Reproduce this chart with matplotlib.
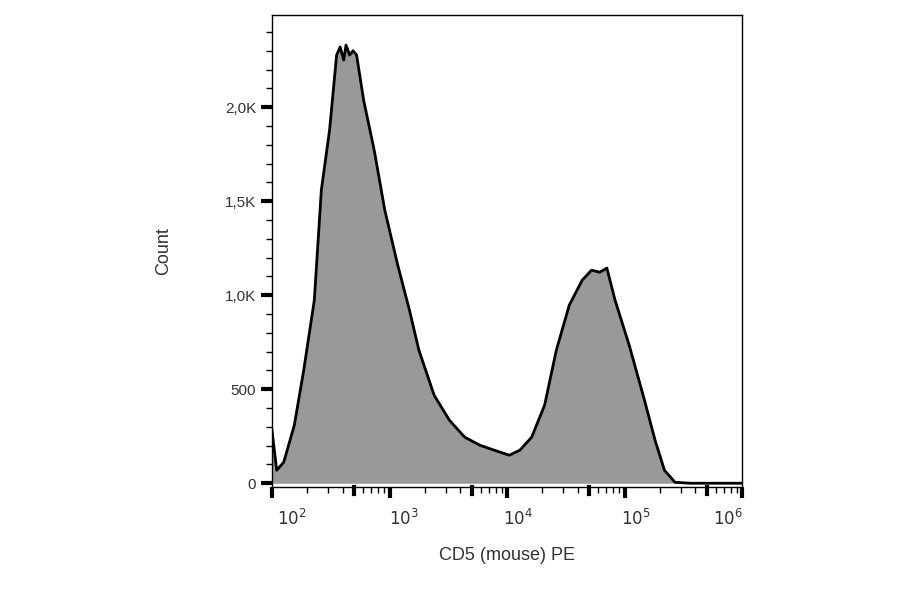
import numpy as np
import matplotlib
matplotlib.use("Agg")
import matplotlib.pyplot as plt
from matplotlib.ticker import FixedLocator, NullFormatter
import matplotlib.transforms as mt
from matplotlib.lines import Line2D

plt.rcParams['font.family'] = ['Liberation Sans', 'DejaVu Sans']

log_x = [2.0, 2.04, 2.10, 2.19, 2.27, 2.36, 2.42, 2.49, 2.55, 2.58, 2.61, 2.63, 2.66, 2.69, 2.72, 2.78, 2.87, 2.96,
         3.07, 3.17, 3.25, 3.38, 3.51, 3.64, 3.77, 3.89, 4.02, 4.11, 4.21, 4.32, 4.42, 4.53,
         4.64, 4.72, 4.79, 4.85, 4.92, 5.04, 5.17, 5.26, 5.34, 5.43, 5.56, 6.0]
counts = [282, 69, 112, 309, 601, 973, 1559, 1878, 2277, 2320, 2250, 2330, 2277, 2300, 2277, 2037, 1771, 1452,
          1160, 920, 708, 468, 335, 245, 202, 176, 149, 176, 245, 415, 708, 947,
          1080, 1133, 1122, 1144, 973, 734, 442, 229, 69, 5, 0, 0]
ytick_vals = [0, 500, 1000, 1500, 2000]
ytick_labels = ["0", "500", "1,0K", "1,5K", "2,0K"]
xtick_labels = ["$10^2$", "$10^3$", "$10^4$", "$10^5$", "$10^6$"]

x = 10 ** np.array(log_x)
y = np.array(counts)

fig = plt.figure(figsize=(9, 5.94), dpi=100)
ax = fig.add_axes([272/900, 1-487/594, 470/900, 472/594])
ax.fill_between(x, y, color="#999999", lw=0)
ax.plot(x, y, color="black", lw=2)
ax.set_xscale("log")
ax.set_xlim(100, 1e6)
ax.set_ylim(-20, 2490)

decades = [1e2, 1e3, 1e4, 1e5, 1e6]
ax.xaxis.set_major_locator(FixedLocator(decades))
ax.xaxis.set_major_formatter(NullFormatter())
mid = [5 * d for d in decades[:-1]]
minor = [m * d for d in decades[:-1] for m in (2, 3, 4, 6, 7, 8, 9)]
ax.xaxis.set_minor_locator(FixedLocator(minor))
ax.xaxis.set_minor_formatter(NullFormatter())
ax.tick_params(axis="x", which="major", length=8, width=3, direction="out")
ax.tick_params(axis="x", which="minor", length=4, width=1, direction="out")
tr = mt.blended_transform_factory(ax.transData, ax.transAxes)
for m in mid:
    ax.add_line(Line2D([m, m], [0, -0.014], transform=tr, color="black", lw=3, clip_on=False))

label_pos = [10**2.17, 10**3.12, 10**4.09, 10**5.1, 10**5.88]
for p, t in zip(label_pos, xtick_labels):
    ax.text(p, -0.045, t, transform=tr, ha="center", va="top", fontsize=12, color="#333333")

ax.set_yticks(ytick_vals)
ax.set_yticklabels(ytick_labels, fontsize=11, color="#333333")
ax.yaxis.set_minor_locator(FixedLocator([v for v in range(100, 2500, 100) if v % 500]))
ax.tick_params(axis="y", which="major", length=8, width=3)
ax.tick_params(axis="y", which="minor", length=4, width=1)

ax.set_xlabel("CD5 (mouse) PE", fontsize=13, color="#333333", labelpad=32)
ax.set_ylabel("Count", fontsize=13, color="#333333", labelpad=38)
for s in ax.spines.values():
    s.set_linewidth(1)
fig.savefig("out.png", dpi=100)
